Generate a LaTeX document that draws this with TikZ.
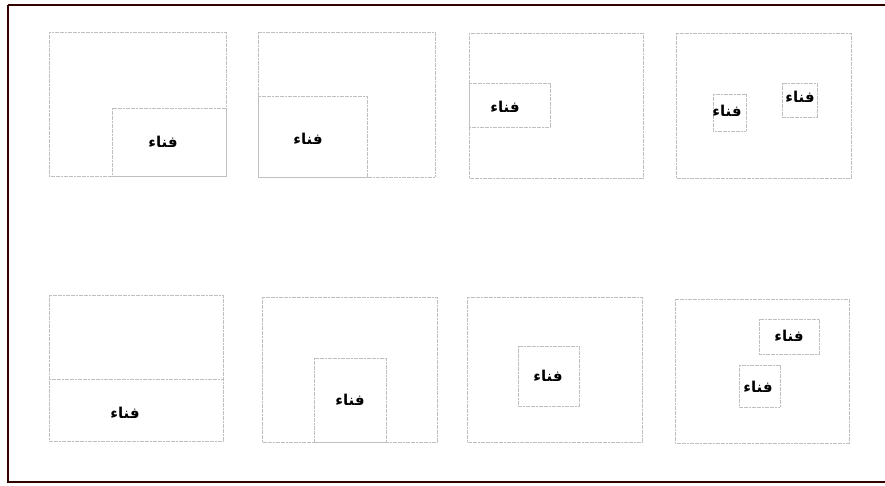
\documentclass[tikz,border=0pt]{standalone}
\usepackage{fontspec}
\newfontfamily\arabicfont[Script=Arabic]{DejaVu Sans}
\TeXXeTstate=1
\tikzset{
  room/.style={draw=gray!50, line width=0.7pt, dash pattern=on 2pt off 0.6pt},
  lbl/.style={font=\arabicfont\bfseries\fontsize{15}{17}\selectfont, inner sep=0pt, text=black},
  frame/.style={draw=black!80!red, line width=2.2pt}
}
\begin{document}
\begin{tikzpicture}[x=1pt,y=-1pt]
\useasboundingbox (0,0) rectangle (885,486);
\fill[white] (0,0) rectangle (885,486);
\draw[frame] (8,5) -- (890,5) (8,5) -- (8,482) -- (890,482);
% panel 1
\draw[room] (49,32) rectangle (226,176);
\draw[room] (112,108) rectangle (226,176);
\node[lbl] (t1) at (163,142) {\beginR فناء\endR};
% panel 2
\draw[room] (258,32) rectangle (435,177);
\draw[room] (258,96) rectangle (367,177);
\node[lbl] (t2) at (308,139) {\beginR فناء\endR};
% panel 3
\draw[room] (469,33) rectangle (643,178);
\draw[room] (469,83) rectangle (550,127);
\node[lbl] (t3) at (505,107) {\beginR فناء\endR};
% panel 4
\draw[room] (676,33) rectangle (851,178);
\draw[room] (713,94) rectangle (746,131);
\draw[room] (782,83) rectangle (817,117);
\node[lbl] (t4a) at (727,111) {\beginR فناء\endR};
\node[lbl] (t4b) at (800,97) {\beginR فناء\endR};
% panel 5
\draw[room] (49,295) rectangle (223,441);
\draw[room] (49,379) -- (223,379);
\node[lbl] (t5) at (125,413) {\beginR فناء\endR};
% panel 6
\draw[room] (262,297) rectangle (437,442);
\draw[room] (314,358) rectangle (386,442);
\node[lbl] (t6) at (350,400) {\beginR فناء\endR};
% panel 7
\draw[room] (467,297) rectangle (642,442);
\draw[room] (518,346) rectangle (579,406);
\node[lbl] (t7) at (548,376) {\beginR فناء\endR};
% panel 8
\draw[room] (675,299) rectangle (849,443);
\draw[room] (759,319) rectangle (819,354);
\draw[room] (739,365) rectangle (780,407);
\node[lbl] (t8a) at (789,336) {\beginR فناء\endR};
\node[lbl] (t8b) at (758,387) {\beginR فناء\endR};
\end{tikzpicture}
\end{document}
